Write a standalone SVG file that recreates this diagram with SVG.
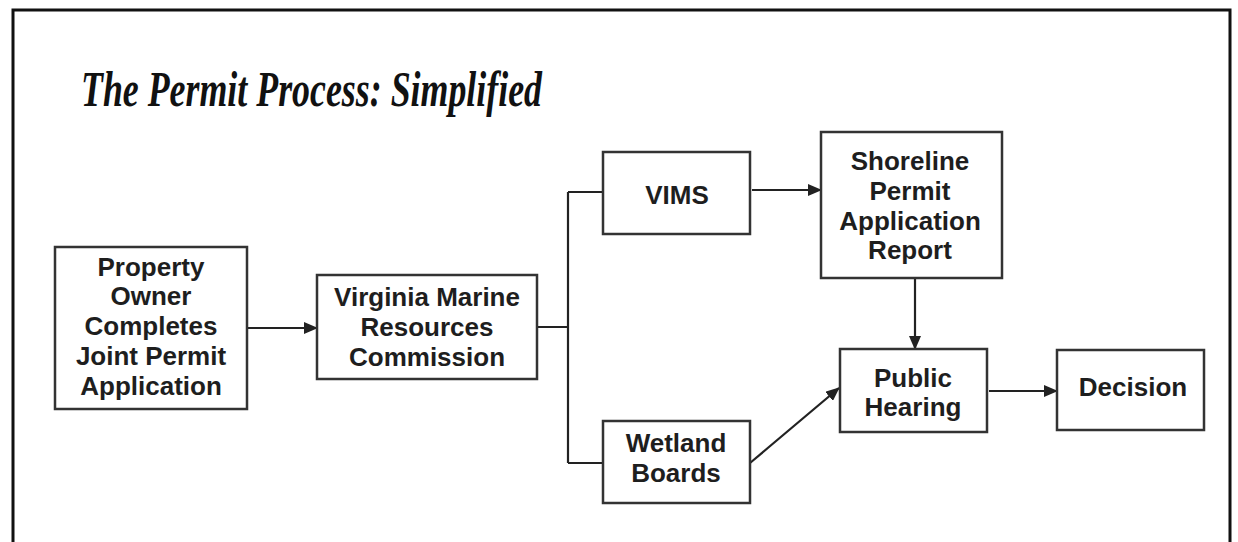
<svg xmlns="http://www.w3.org/2000/svg" width="1238" height="542" viewBox="0 0 1238 542">
<style>
.box{fill:#fff;stroke:#333;stroke-width:2.5}
.lbl{font-family:"Liberation Sans",Arial,sans-serif;font-weight:bold;font-size:26px;fill:#1e1e1e;text-anchor:middle}
.con{fill:none;stroke:#222;stroke-width:2.2}
.title{font-family:"Liberation Serif","Times New Roman",serif;font-style:italic;font-weight:bold;font-size:50px;fill:#111}
</style>
<defs>
<marker id="ah" markerUnits="userSpaceOnUse" markerWidth="14" markerHeight="12" refX="13" refY="6" orient="auto">
<path d="M0,0 L14,6 L0,12 z" fill="#222"/>
</marker>
</defs>
<rect width="1238" height="542" fill="#fff"/>
<path d="M13,548 V10 H1230 V548" fill="none" stroke="#111" stroke-width="3"/>
<text class="title" x="81" y="106" textLength="461" lengthAdjust="spacingAndGlyphs">The Permit Process: Simplified</text>

<g id="connectors">
<line class="con" x1="247" y1="328" x2="317" y2="328" marker-end="url(#ah)"/>
<path class="con" d="M537,327 H568 M568,192 V463 M568,192 H603 M568,463 H603"/>
<line class="con" x1="752" y1="190" x2="821" y2="190" marker-end="url(#ah)"/>
<line class="con" x1="915" y1="279" x2="915" y2="349" marker-end="url(#ah)"/>
<line class="con" x1="750" y1="463" x2="839" y2="388" marker-end="url(#ah)"/>
<line class="con" x1="989" y1="391" x2="1057" y2="391" marker-end="url(#ah)"/>
</g>

<g id="property-owner">
<rect class="box" x="55" y="247" width="192" height="162"/>
<text class="lbl" x="151" y="276">Property</text>
<text class="lbl" x="151" y="305">Owner</text>
<text class="lbl" x="151" y="335">Completes</text>
<text class="lbl" x="151" y="365">Joint Permit</text>
<text class="lbl" x="151" y="395">Application</text>
</g>

<g id="vmrc">
<rect class="box" x="317" y="275" width="220" height="104"/>
<text class="lbl" x="427" y="306">Virginia Marine</text>
<text class="lbl" x="427" y="336">Resources</text>
<text class="lbl" x="427" y="366">Commission</text>
</g>

<g id="vims">
<rect class="box" x="603" y="152" width="147" height="82"/>
<text class="lbl" x="677" y="204">VIMS</text>
</g>

<g id="wetland-boards">
<rect class="box" x="603" y="421" width="147" height="82"/>
<text class="lbl" x="676" y="452">Wetland</text>
<text class="lbl" x="676" y="482">Boards</text>
</g>

<g id="shoreline-report">
<rect class="box" x="821" y="132" width="181" height="146"/>
<text class="lbl" x="910" y="170">Shoreline</text>
<text class="lbl" x="910" y="200">Permit</text>
<text class="lbl" x="910" y="230">Application</text>
<text class="lbl" x="910" y="259">Report</text>
</g>

<g id="public-hearing">
<rect class="box" x="840" y="349" width="147" height="83"/>
<text class="lbl" x="913" y="387">Public</text>
<text class="lbl" x="913" y="416">Hearing</text>
</g>

<g id="decision">
<rect class="box" x="1057" y="350" width="147" height="80"/>
<text class="lbl" x="1133" y="396">Decision</text>
</g>
</svg>
